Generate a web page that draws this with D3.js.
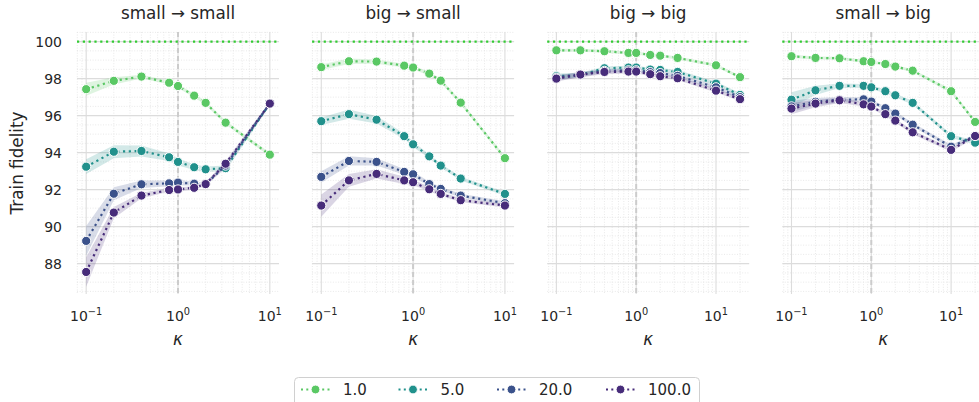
<!DOCTYPE html>
<html>
<head>
<meta charset="utf-8">
<script src="https://cdn.jsdelivr.net/npm/d3@7"></script>
<style>
  body { margin: 0; background: #fff; }
  text { font-family: "DejaVu Sans", sans-serif; fill: #262626; }
</style>
</head>
<body>
<div id="plot"></div>
<script>
// kappa values (x)
var kappaShort = [0.1, 0.2, 0.4, 0.8, 1.0, 1.5, 2.0, 3.3, 10];
var kappaLong = [0.1, 0.2, 0.4, 0.8, 1.0, 1.5, 2.0, 3.3, 10, 20];

var hues = ["1.0", "5.0", "20.0", "100.0"];
var colors = ["#5ac864", "#21918c", "#3b528b", "#472c7a"];
var titles = ["small \u2192 small", "big \u2192 small", "big \u2192 big", "small \u2192 big"];
var yTicks = [88, 90, 92, 94, 96, 98, 100];

// series values per panel, one row per hue (1.0, 5.0, 20.0, 100.0)
var smallSmall = [
    [97.43, 97.88, 98.11, 97.78, 97.6, 97.08, 96.69, 95.62, 93.89],
    [93.24, 94.05, 94.09, 93.75, 93.5, 93.21, 93.1, 93.16, 96.65],
    [89.23, 91.78, 92.29, 92.34, 92.38, 92.32, 92.3, 93.3, 96.65],
    [87.55, 90.76, 91.68, 91.98, 92.01, 92.1, 92.3, 93.4, 96.65]
];
var bigSmall = [
    [98.62, 98.94, 98.92, 98.7, 98.6, 98.27, 97.89, 96.7, 93.7],
    [95.7, 96.08, 95.78, 94.89, 94.45, 93.8, 93.3, 92.6, 91.77],
    [92.69, 93.55, 93.5, 92.96, 92.83, 92.3, 92.04, 91.68, 91.27],
    [91.14, 92.5, 92.85, 92.5, 92.4, 92.02, 91.77, 91.43, 91.14]
];
var bigBig = [
    [99.53, 99.53, 99.48, 99.39, 99.39, 99.28, 99.24, 99.12, 98.72, 98.08],
    [98.13, 98.2, 98.56, 98.6, 98.6, 98.49, 98.47, 98.36, 97.73, 97.12],
    [98.05, 98.2, 98.42, 98.45, 98.45, 98.35, 98.3, 98.15, 97.53, 97.0],
    [98.0, 98.22, 98.36, 98.38, 98.38, 98.24, 98.13, 98.02, 97.35, 96.89]
];
var smallBig = [
    [99.21, 99.12, 99.1, 98.94, 98.9, 98.79, 98.65, 98.43, 97.32, 95.66],
    [96.86, 97.37, 97.61, 97.61, 97.53, 97.32, 97.1, 96.69, 94.89, 94.54],
    [96.5, 96.75, 96.86, 96.88, 96.76, 96.4, 96.11, 95.51, 94.32, 94.9],
    [96.38, 96.65, 96.83, 96.61, 96.49, 96.08, 95.73, 95.1, 94.15, 94.9]
];

// half width of the error bands
var smallSmallErr = [
    [0.35, 0.2, 0.1, 0.1, 0.1, 0.1, 0.1, 0.1, 0.1],
    [0.4, 0.35, 0.3, 0.2, 0.2, 0.15, 0.15, 0.15, 0.1],
    [0.8, 0.35, 0.2, 0.15, 0.15, 0.1, 0.1, 0.15, 0.1],
    [0.8, 0.3, 0.15, 0.1, 0.1, 0.1, 0.1, 0.15, 0.1]
];
var bigSmallErr = [
    [0.15, 0.15, 0.12, 0.1, 0.1, 0.1, 0.1, 0.1, 0.1],
    [0.2, 0.25, 0.2, 0.15, 0.15, 0.1, 0.1, 0.1, 0.1],
    [0.3, 0.25, 0.2, 0.15, 0.15, 0.12, 0.1, 0.1, 0.1],
    [0.6, 0.35, 0.25, 0.2, 0.15, 0.12, 0.1, 0.1, 0.1]
];
var bigBigErr = [
    [0.08, 0.08, 0.08, 0.08, 0.08, 0.08, 0.08, 0.08, 0.08, 0.08],
    [0.15, 0.12, 0.1, 0.1, 0.1, 0.1, 0.1, 0.1, 0.1, 0.1],
    [0.15, 0.12, 0.1, 0.1, 0.1, 0.1, 0.1, 0.1, 0.1, 0.1],
    [0.15, 0.15, 0.12, 0.1, 0.1, 0.1, 0.1, 0.1, 0.1, 0.1]
];
var smallBigErr = [
    [0.1, 0.08, 0.08, 0.08, 0.08, 0.08, 0.08, 0.08, 0.1, 0.1],
    [0.4, 0.25, 0.12, 0.1, 0.1, 0.1, 0.1, 0.1, 0.1, 0.1],
    [0.3, 0.2, 0.15, 0.12, 0.1, 0.1, 0.1, 0.1, 0.1, 0.1],
    [0.3, 0.2, 0.15, 0.12, 0.1, 0.1, 0.1, 0.1, 0.1, 0.1]
];

var panels = [
    { kappa: kappaShort, vals: smallSmall, err: smallSmallErr, dom: [-1.1, 1.1] },
    { kappa: kappaShort, vals: bigSmall, err: bigSmallErr, dom: [-1.1, 1.1] },
    { kappa: kappaLong, vals: bigBig, err: bigBigErr, dom: [-1.115, 1.416] },
    { kappa: kappaLong, vals: smallBig, err: smallBigErr, dom: [-1.115, 1.416] }
];

var W = 979, H = 402
    , plotTop = 32, plotBottom = 294
    , pw = 202, step = 235.1, left0 = 77;

var svg = d3.select("#plot").append("svg")
    .attr("width", W)
    .attr("height", H);

var yScale = d3.scaleLinear()
    .domain([86.36, 100.52])
    .range([plotBottom, plotTop]);

var minorY = d3.range(86.5, 100.51, 0.5).filter(function (v) { return v % 2 !== 0; });

panels.forEach(function (p, pi) {
    var x0 = left0 + pi * step;
    var xScale = d3.scaleLog()
        .domain([Math.pow(10, p.dom[0]), Math.pow(10, p.dom[1])])
        .range([x0, x0 + pw]);

    var g = svg.append("g");
    var clipId = "clip" + pi;
    g.append("clipPath").attr("id", clipId)
        .append("rect")
        .attr("x", x0).attr("y", plotTop)
        .attr("width", pw).attr("height", plotBottom - plotTop);

    // minor grid
    var minorX = [];
    [0.01, 0.1, 1, 10].forEach(function (d) {
        for (var k = 2; k <= 9; k++) {
            var v = d * k;
            if (v >= xScale.domain()[0] && v <= xScale.domain()[1]) minorX.push(v);
        }
    });
    g.selectAll(".mx").data(minorX).enter().append("line")
        .attr("x1", function (d) { return xScale(d); })
        .attr("x2", function (d) { return xScale(d); })
        .attr("y1", plotTop).attr("y2", plotBottom)
        .style("stroke", "#e3e3e3").style("stroke-width", 0.8)
        .style("stroke-dasharray", "1,1.6");
    g.selectAll(".my").data(minorY).enter().append("line")
        .attr("x1", x0).attr("x2", x0 + pw)
        .attr("y1", function (d) { return yScale(d); })
        .attr("y2", function (d) { return yScale(d); })
        .style("stroke", "#e3e3e3").style("stroke-width", 0.8)
        .style("stroke-dasharray", "1,1.6");

    // major grid
    var majorX = [0.1, 1, 10];
    g.selectAll(".gx").data(majorX).enter().append("line")
        .attr("x1", function (d) { return xScale(d); })
        .attr("x2", function (d) { return xScale(d); })
        .attr("y1", plotTop).attr("y2", plotBottom)
        .style("stroke", "#dcdcdc").style("stroke-width", 1.1);
    g.selectAll(".gy").data(yTicks).enter().append("line")
        .attr("x1", x0).attr("x2", x0 + pw)
        .attr("y1", function (d) { return yScale(d); })
        .attr("y2", function (d) { return yScale(d); })
        .style("stroke", "#dcdcdc").style("stroke-width", 1.1);

    // reference lines
    g.append("line")
        .attr("x1", xScale(1)).attr("x2", xScale(1))
        .attr("y1", plotTop).attr("y2", plotBottom)
        .style("stroke", "#cccccc").style("stroke-width", 2)
        .style("stroke-dasharray", "5,3");
    g.append("line")
        .attr("x1", x0).attr("x2", x0 + pw)
        .attr("y1", yScale(100)).attr("y2", yScale(100))
        .style("stroke", "#33cc33").style("stroke-width", 2.2)
        .style("stroke-dasharray", "2.2,3.6");

    // series
    var plot = g.append("g").attr("clip-path", "url(#" + clipId + ")");
    p.vals.forEach(function (vals, si) {
        var pts = vals.map(function (v, i) {
            return { k: p.kappa[i], v: v, e: p.err[si][i] };
        });
        var area = d3.area()
            .x(function (d) { return xScale(d.k); })
            .y0(function (d) { return yScale(d.v - d.e); })
            .y1(function (d) { return yScale(d.v + d.e); });
        var plotLine = d3.line()
            .x(function (d) { return xScale(d.k); })
            .y(function (d) { return yScale(d.v); });

        plot.append("path").datum(pts)
            .attr("d", area)
            .style("fill", colors[si]).style("fill-opacity", 0.2);
        plot.append("path").datum(pts)
            .attr("d", plotLine)
            .style("fill", "none")
            .style("stroke", colors[si]).style("stroke-width", 2.2)
            .style("stroke-dasharray", "2.2,3.6");
        plot.selectAll(".pt" + si).data(pts).enter().append("circle")
            .attr("cx", function (d) { return xScale(d.k); })
            .attr("cy", function (d) { return yScale(d.v); })
            .attr("r", 4.6)
            .style("fill", colors[si])
            .style("stroke", "#fff").style("stroke-width", 1);
    });

    // titles and x labels
    var cx = x0 + pw / 2;
    svg.append("text")
        .attr("x", cx).attr("y", 19)
        .attr("text-anchor", "middle")
        .style("font-size", "16.8px")
        .text(titles[pi]);

    majorX.forEach(function (d) {
        var exp = Math.round(Math.log10(d));
        var t = svg.append("text")
            .attr("x", xScale(d)).attr("y", 321)
            .attr("text-anchor", "middle")
            .style("font-size", "14px");
        t.append("tspan").text("10");
        t.append("tspan")
            .attr("dy", -6)
            .style("font-size", "9.8px")
            .text(exp < 0 ? "\u2212" + (-exp) : "" + exp);
    });

    svg.append("text")
        .attr("x", cx).attr("y", 345)
        .attr("text-anchor", "middle")
        .style("font-size", "16.8px")
        .style("font-style", "italic")
        .text("\u03ba");
});

// y axis labels (first panel only)
svg.selectAll(".ytick").data(yTicks).enter().append("text")
    .attr("x", 62)
    .attr("y", function (d) { return yScale(d) + 5; })
    .attr("text-anchor", "end")
    .style("font-size", "14px")
    .text(function (d) { return d; });

svg.append("text")
    .attr("transform", "translate(23," + ((plotTop + plotBottom) / 2) + ") rotate(-90)")
    .attr("text-anchor", "middle")
    .style("font-size", "16.8px")
    .text("Train fidelity");

// legend
var lg = svg.append("g");
lg.append("rect")
    .attr("x", 294.5).attr("y", 377.5)
    .attr("width", 405).attr("height", 40)
    .attr("rx", 4)
    .style("fill", "#fff").style("stroke", "#d0d0d0");
var legX = [301, 398.5, 497, 606];
hues.forEach(function (h, i) {
    var lx = legX[i], ly = 389.5;
    lg.append("line")
        .attr("x1", lx).attr("x2", lx + 29)
        .attr("y1", ly).attr("y2", ly)
        .style("stroke", colors[i]).style("stroke-width", 2)
        .style("stroke-dasharray", "2,3.3");
    lg.append("circle")
        .attr("cx", lx + 14.5).attr("cy", ly).attr("r", 4.4)
        .style("fill", colors[i]).style("stroke", "#fff").style("stroke-width", 1);
    lg.append("text")
        .attr("x", lx + 42).attr("y", ly + 5.5)
        .style("font-size", "15px")
        .text(h);
});
</script>
</body>
</html>
